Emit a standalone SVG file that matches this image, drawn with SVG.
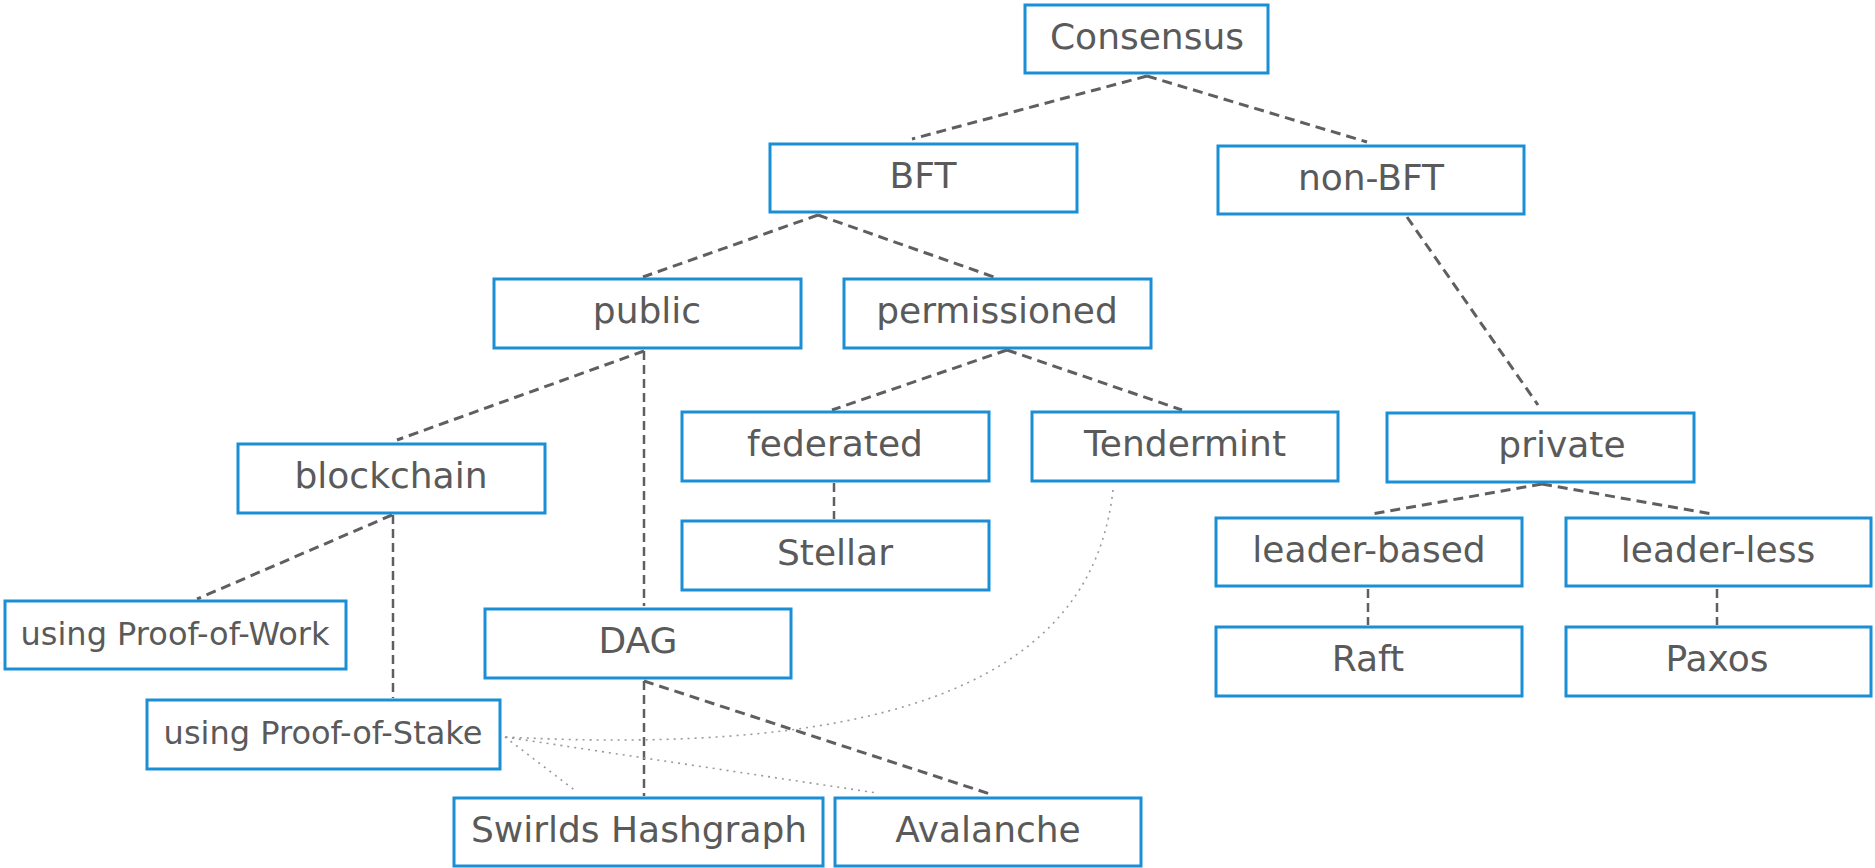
<svg xmlns="http://www.w3.org/2000/svg" width="1875" height="868" viewBox="0 0 1875 868">
<style>
.box{fill:#ffffff;stroke:#1a8fd6;stroke-width:3}
.lbl{font-family:"DejaVu Sans",Verdana,sans-serif;font-size:36px;fill:#5a5a5a;text-anchor:middle}
.sm{font-size:32px}
.dash{fill:none;stroke:#5f5f5f;stroke-width:3;stroke-dasharray:10 6}
.vdash{fill:none;stroke:#5f5f5f;stroke-width:2.5;stroke-dasharray:9 5}
.dot{fill:none;stroke:#9a9a9a;stroke-width:1.6;stroke-dasharray:2 5}
</style>
<rect width="1875" height="868" fill="#ffffff"/>
<g id="connectors">
<line class="dash" x1="1147" y1="76" x2="912" y2="139"/>
<line class="dash" x1="1147" y1="76" x2="1367" y2="142"/>
<line class="dash" x1="818" y1="215" x2="643" y2="277"/>
<line class="dash" x1="818" y1="215" x2="994" y2="277"/>
<line class="dash" x1="1407" y1="217" x2="1538" y2="405"/>
<line class="dash" x1="644" y1="351" x2="397" y2="440"/>
<line class="vdash" x1="644" y1="351" x2="644" y2="606"/>
<line class="dash" x1="1007" y1="350" x2="832" y2="410"/>
<line class="dash" x1="1007" y1="350" x2="1182" y2="410"/>
<line class="vdash" x1="834" y1="483" x2="834" y2="519"/>
<line class="dash" x1="1542" y1="484" x2="1372" y2="514"/>
<line class="dash" x1="1542" y1="484" x2="1712" y2="514"/>
<line class="vdash" x1="1368" y1="589" x2="1368" y2="625"/>
<line class="vdash" x1="1717" y1="589" x2="1717" y2="625"/>
<line class="dash" x1="392" y1="515" x2="197" y2="599"/>
<line class="vdash" x1="393" y1="515" x2="393" y2="698"/>
<line class="vdash" x1="644" y1="681" x2="644" y2="796"/>
<line class="dash" x1="644" y1="681" x2="993" y2="795"/>
<line class="dot" x1="505" y1="737" x2="577" y2="792"/>
<line class="dot" x1="505" y1="737" x2="877" y2="793"/>
<path class="dot" d="M1113,490 C1095,650 950,760 505,737"/>
</g>
<g id="n-consensus"><rect class="box" x="1025" y="5" width="243" height="68"/><text class="lbl" x="1147" y="49">Consensus</text></g>
<g id="n-bft"><rect class="box" x="770" y="144" width="307" height="68"/><text class="lbl" x="923" y="188">BFT</text></g>
<g id="n-nonbft"><rect class="box" x="1218" y="146" width="306" height="68"/><text class="lbl" x="1371" y="190">non-BFT</text></g>
<g id="n-public"><rect class="box" x="494" y="279" width="307" height="69"/><text class="lbl" x="647" y="323">public</text></g>
<g id="n-permissioned"><rect class="box" x="844" y="279" width="307" height="69"/><text class="lbl" x="997" y="323">permissioned</text></g>
<g id="n-federated"><rect class="box" x="682" y="412" width="307" height="69"/><text class="lbl" x="835" y="456">federated</text></g>
<g id="n-tendermint"><rect class="box" x="1032" y="412" width="306" height="69"/><text class="lbl" x="1185" y="456">Tendermint</text></g>
<g id="n-private"><rect class="box" x="1387" y="413" width="307" height="69"/><text class="lbl" x="1562" y="457">private</text></g>
<g id="n-blockchain"><rect class="box" x="238" y="444" width="307" height="69"/><text class="lbl" x="391" y="488">blockchain</text></g>
<g id="n-stellar"><rect class="box" x="682" y="521" width="307" height="69"/><text class="lbl" x="835" y="565">Stellar</text></g>
<g id="n-leaderbased"><rect class="box" x="1216" y="518" width="306" height="68"/><text class="lbl" x="1369" y="562">leader-based</text></g>
<g id="n-leaderless"><rect class="box" x="1566" y="518" width="305" height="68"/><text class="lbl" x="1718" y="562">leader-less</text></g>
<g id="n-pow"><rect class="box" x="5" y="601" width="341" height="68"/><text class="lbl sm" x="175" y="645">using Proof-of-Work</text></g>
<g id="n-dag"><rect class="box" x="485" y="609" width="306" height="69"/><text class="lbl" x="638" y="653">DAG</text></g>
<g id="n-raft"><rect class="box" x="1216" y="627" width="306" height="69"/><text class="lbl" x="1368" y="671">Raft</text></g>
<g id="n-paxos"><rect class="box" x="1566" y="627" width="305" height="69"/><text class="lbl" x="1717" y="671">Paxos</text></g>
<g id="n-pos"><rect class="box" x="147" y="700" width="353" height="69"/><text class="lbl sm" x="323" y="744">using Proof-of-Stake</text></g>
<g id="n-swirlds"><rect class="box" x="454" y="798" width="369" height="68"/><text class="lbl" x="639" y="842">Swirlds Hashgraph</text></g>
<g id="n-avalanche"><rect class="box" x="835" y="798" width="306" height="68"/><text class="lbl" x="988" y="842">Avalanche</text></g>
</svg>
